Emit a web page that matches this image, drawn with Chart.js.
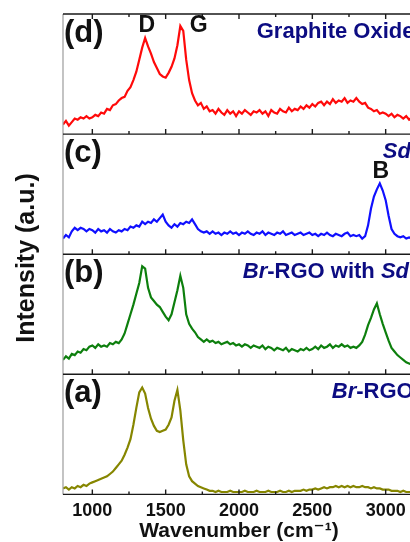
<!DOCTYPE html>
<html>
<head>
<meta charset="utf-8">
<title>Raman spectra</title>
<script src="https://cdn.jsdelivr.net/npm/chart.js@4/dist/chart.umd.min.js"></script>
<style>
    html, body { margin: 0; padding: 0; background: #fff; overflow: hidden; }
    #wrap { width: 410px; height: 542px; overflow: hidden; }
</style>
</head>
<body>
<div id="wrap"><canvas id="chart" width="420" height="542"></canvas></div>
<script>
// wavenumber (cm-1), one point every 20
const wavenumbers = [
    800, 820, 840, 860, 880, 900, 920, 940, 960, 980,
    1000, 1020, 1040, 1060, 1080, 1100, 1120, 1140, 1160, 1180,
    1200, 1220, 1240, 1260, 1280, 1300, 1320, 1340, 1360, 1380,
    1400, 1420, 1440, 1460, 1480, 1500, 1520, 1540, 1560, 1580,
    1600, 1620, 1640, 1660, 1680, 1700, 1720, 1740, 1760, 1780,
    1800, 1820, 1840, 1860, 1880, 1900, 1920, 1940, 1960, 1980,
    2000, 2020, 2040, 2060, 2080, 2100, 2120, 2140, 2160, 2180,
    2200, 2220, 2240, 2260, 2280, 2300, 2320, 2340, 2360, 2380,
    2400, 2420, 2440, 2460, 2480, 2500, 2520, 2540, 2560, 2580,
    2600, 2620, 2640, 2660, 2680, 2700, 2720, 2740, 2760, 2780,
    2800, 2820, 2840, 2860, 2880, 2900, 2920, 2940, 2960, 2980,
    3000, 3020, 3040, 3060, 3080, 3100, 3120, 3140, 3160, 3180,
    3200
];

// intensities, each panel in its own 0..100 units
const graphiteOxide = [
    8, 11, 7, 10, 13, 12, 14, 13, 15, 13,
    14, 16, 15, 18, 17, 21, 20, 24, 25, 28,
    30, 31, 36, 39, 45, 52, 62, 72, 80, 73,
    67, 60, 55, 50, 48, 47, 51, 56, 63, 74,
    90, 86, 62, 45, 34, 28, 24, 26, 21, 23,
    19, 20, 17, 21, 18, 16, 20, 17, 19, 15,
    19, 17, 20, 18, 16, 19, 18, 20, 17, 19,
    15, 20, 18, 17, 21, 19, 18, 22, 19, 21,
    20, 23, 21, 24, 22, 25, 23, 26, 27, 24,
    27, 25, 29, 26, 28, 27, 30, 26, 28, 27,
    30, 27, 25, 26, 22, 21, 19, 20, 17, 18,
    17, 15, 17, 14, 16, 15, 13, 15, 12, 14,
    13
];
const sd = [
    13, 16, 14, 19, 22, 20, 22, 21, 19, 21,
    20, 18, 21, 19, 20, 18, 21, 19, 18, 20,
    19, 21, 20, 23, 22, 24, 23, 27, 25, 27,
    26, 29, 27, 30, 33, 27, 24, 22, 25, 23,
    26, 25, 27, 26, 29, 25, 21, 19, 18, 19,
    17, 19, 17, 18, 16, 18, 17, 19, 17, 18,
    16, 18, 17, 19, 17, 16, 18, 17, 19, 16,
    18, 17, 16, 18, 17, 19, 16, 17, 18, 16,
    17, 18, 16, 17, 18, 16, 17, 15, 17, 16,
    18, 16, 15, 17, 16, 15, 17, 18, 15, 16,
    15, 16, 13, 15, 24, 38, 48, 54, 59, 53,
    45, 32, 21, 17, 15, 14, 15, 13, 14, 13,
    13
];
const brRgoWithSd = [
    12, 15, 13, 17, 16, 19, 18, 21, 20, 23,
    24, 22, 25, 23, 24, 23, 26, 25, 27, 26,
    29, 34, 42, 50, 58, 67, 76, 90, 88, 72,
    64, 61, 58, 56, 52, 48, 45, 50, 60, 70,
    82, 72, 50, 42, 38, 35, 31, 29, 27, 29,
    27, 28, 26, 27, 25, 26, 27, 25, 26, 24,
    25, 23, 25, 24, 22, 24, 23, 22, 24, 21,
    23, 22, 20, 22, 21, 20, 22, 19, 21, 20,
    19, 21, 20, 22, 20, 21, 23, 21, 24, 22,
    23, 25, 22, 24, 23, 25, 23, 24, 22, 23,
    22, 24, 27, 33, 41, 47, 54, 59, 50, 42,
    35, 28, 22, 19, 16, 14, 12, 10, 9, 8,
    7
];
const brRgo = [
    5, 6, 4, 6, 5, 7, 6, 8, 7, 9,
    10, 11, 12, 13, 14, 15, 17, 19, 22, 25,
    28, 33, 39, 46, 58, 72, 85, 89, 84, 72,
    63, 57, 53, 52, 53, 54, 58, 64, 78, 87,
    70, 45, 25, 15, 11, 9, 7, 6, 5, 4,
    3, 3, 2, 3, 2, 2, 2, 3, 2, 2,
    2, 2, 3, 2, 2, 2, 3, 2, 2, 2,
    3, 2, 2, 2, 3, 2, 2, 3, 2, 3,
    3, 3, 4, 3, 4, 4, 5, 4, 5, 6,
    5, 6, 6, 7, 6, 7, 6, 7, 6, 7,
    6, 6, 7, 6, 6, 5, 6, 5, 5, 4,
    4, 4, 3, 3, 3, 2, 3, 2, 2, 2,
    2
];

const panelIds = ['yd', 'yc', 'yb', 'ya'];
const panelSeries = [graphiteOxide, sd, brRgoWithSd, brRgo];
const panelColors = ['#ff0a0a', '#1010ff', '#0d7f0d', '#868600'];
const panelLetters = ['(d)', '(c)', '(b)', '(a)'];

const FONT = '"Liberation Sans", Arial, "DejaVu Sans", sans-serif';
const NAVY = '#0c0c82';

function toPoints(values) {
    return values.map((v, i) => ({ x: wavenumbers[i], y: v }));
}

// sample names, drawn in bold with some parts in italic
const sampleNames = [
    { at: 2121, parts: [['Graphite Oxide', false]] },
    { at: 2980, parts: [['Sd', true]] },
    { at: 2026, parts: [['Br', true], ['-RGO with ', false], ['Sd', true]] },
    { at: 2633, parts: [['Br', true], ['-RGO', false]] }
];
// peak letters: [text, panel, wavenumber, offset from panel top]
const peakLetters = [
    ['D', 0, 1371, 12],
    ['G', 0, 1726, 12],
    ['B', 1, 2967, 38]
];

const panelFrame = {
    id: 'panelFrame',
    afterDatasetsDraw(chart) {
        const { ctx, chartArea, scales } = chart;
        const xs = scales.x;
        ctx.save();

        // left border
        ctx.strokeStyle = '#9c9c9c';
        ctx.lineWidth = 1.2;
        ctx.beginPath();
        ctx.moveTo(chartArea.left, chartArea.top);
        ctx.lineTo(chartArea.left, chartArea.bottom);
        ctx.stroke();

        ctx.strokeStyle = '#1a1a1a';
        ctx.lineWidth = 1.4;
        panelIds.forEach((id, i) => {
            const s = scales[id];
            const lines = [[s.bottom, -1]];
            if (i === 0) lines.push([s.top, 1]);
            lines.forEach(([y, dir]) => {
                ctx.beginPath();
                ctx.moveTo(chartArea.left, y);
                ctx.lineTo(chartArea.right, y);
                xs.ticks.forEach(t => {
                    if (t.value % 250 !== 0) return;
                    const len = t.value % 500 === 0 ? 5 : 3;
                    const px = xs.getPixelForValue(t.value);
                    ctx.moveTo(px, y);
                    ctx.lineTo(px, y + dir * len);
                });
                ctx.stroke();
            });

            // panel letter
            ctx.fillStyle = '#111';
            ctx.font = 'bold 31px ' + FONT;
            ctx.textAlign = 'left';
            ctx.textBaseline = 'middle';
            ctx.fillText(panelLetters[i], chartArea.left + 1, s.top + 19);

            // sample name
            let px = xs.getPixelForValue(sampleNames[i].at);
            ctx.fillStyle = NAVY;
            sampleNames[i].parts.forEach(([text, italic]) => {
                ctx.font = (italic ? 'italic ' : '') + 'bold 22px ' + FONT;
                ctx.fillText(text, px, s.top + 18);
                px += ctx.measureText(text).width;
            });
        });

        ctx.fillStyle = '#111';
        ctx.font = 'bold 23px ' + FONT;
        ctx.textAlign = 'center';
        peakLetters.forEach(([text, panel, wn, dy]) => {
            const s = scales[panelIds[panel]];
            ctx.fillText(text, xs.getPixelForValue(wn), s.top + dy);
        });

        // y title
        ctx.translate(27, 258);
        ctx.rotate(-Math.PI / 2);
        ctx.font = 'bold 25px ' + FONT;
        ctx.fillText('Intensity (a.u.)', 0, 0);
        ctx.restore();
    }
};

const yScale = () => ({
    type: 'linear',
    stack: 'panels',
    stackWeight: 1,
    min: 0,
    max: 100,
    ticks: { display: false },
    grid: { display: false, drawTicks: false },
    border: { display: false }
});

const ctx = document.getElementById('chart').getContext('2d');
const chart = new Chart(ctx, {
    type: 'line',
    data: {
        datasets: panelSeries.map((values, i) => ({
            data: toPoints(values),
            yAxisID: panelIds[i],
            borderColor: panelColors[i],
            borderWidth: 2.2,
            pointRadius: 0,
            tension: 0
        }))
    },
    options: {
        responsive: false,
        animation: false,
        events: [],
        layout: { padding: { left: 63, top: 14, right: 5, bottom: 0 } },
        plugins: { legend: { display: false }, tooltip: { enabled: false } },
        scales: {
            x: {
                type: 'linear',
                min: 800,
                max: 3200,
                grid: { display: false, drawTicks: false },
                border: { display: false },
                ticks: {
                    stepSize: 250,
                    includeBounds: false,
                    autoSkip: false,
                    maxRotation: 0,
                    padding: 6,
                    color: '#111',
                    font: { family: FONT, size: 18, weight: 'bold' },
                    callback: v => (v % 500 === 0 ? v : '')
                },
                title: {
                    display: true,
                    text: 'Wavenumber (cm\u207B\u00B9)',
                    color: '#111',
                    padding: { top: -7, bottom: 0 },
                    font: { family: FONT, size: 21, weight: 'bold', lineHeight: 1 }
                }
            },
            // stacked axes are laid out bottom-up in this order
            ya: yScale(),
            yb: yScale(),
            yc: yScale(),
            yd: yScale()
        }
    },
    plugins: [panelFrame]
});
</script>
</body>
</html>
